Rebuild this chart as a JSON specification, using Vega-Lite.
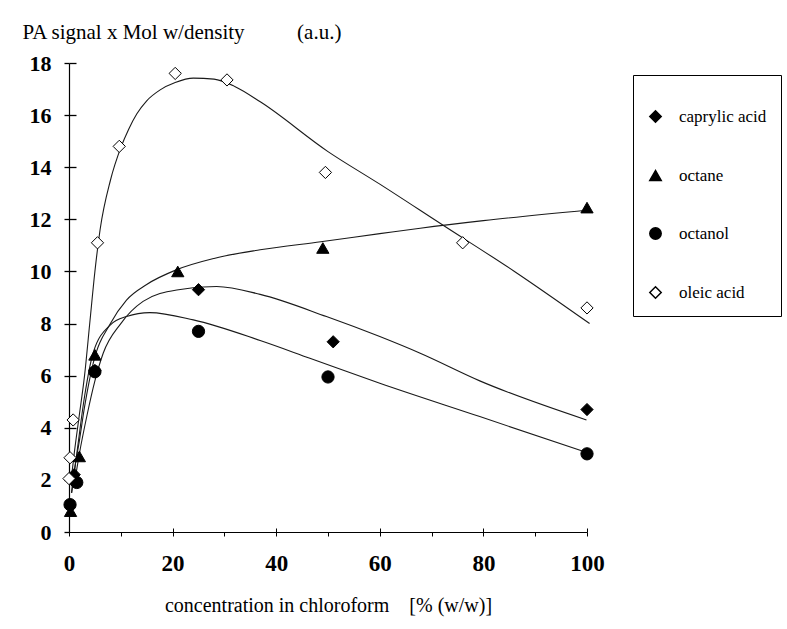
{
  "$schema": "https://vega.github.io/schema/vega-lite/v6.json",
  "width": 518,
  "height": 469,
  "autosize": {"type": "none"},
  "padding": {"left": 69, "top": 63, "right": 200, "bottom": 97},
  "background": "white",
  "config": {
    "font": "Liberation Serif, Times New Roman, serif",
    "view": {"stroke": null}
  },
  "datasets": {
    "points": [
      {"series": "caprylic acid", "conc": 1, "value": 2.2},
      {"series": "caprylic acid", "conc": 5, "value": 6.2},
      {"series": "caprylic acid", "conc": 25, "value": 9.3},
      {"series": "caprylic acid", "conc": 51, "value": 7.3},
      {"series": "caprylic acid", "conc": 100, "value": 4.7},
      {"series": "octane", "conc": 0.3, "value": 0.8},
      {"series": "octane", "conc": 2, "value": 2.9},
      {"series": "octane", "conc": 5, "value": 6.8},
      {"series": "octane", "conc": 21, "value": 10.0},
      {"series": "octane", "conc": 49, "value": 10.9},
      {"series": "octane", "conc": 100, "value": 12.45},
      {"series": "octanol", "conc": 0.2, "value": 1.05},
      {"series": "octanol", "conc": 1.5, "value": 1.9},
      {"series": "octanol", "conc": 5, "value": 6.15},
      {"series": "octanol", "conc": 25, "value": 7.7},
      {"series": "octanol", "conc": 50, "value": 5.95},
      {"series": "octanol", "conc": 100, "value": 3.0},
      {"series": "oleic acid", "conc": 0, "value": 2.05},
      {"series": "oleic acid", "conc": 0.2, "value": 2.85},
      {"series": "oleic acid", "conc": 0.8, "value": 4.3},
      {"series": "oleic acid", "conc": 5.5, "value": 11.1},
      {"series": "oleic acid", "conc": 9.7, "value": 14.8},
      {"series": "oleic acid", "conc": 20.5, "value": 17.6},
      {"series": "oleic acid", "conc": 30.5, "value": 17.35},
      {"series": "oleic acid", "conc": 49.5, "value": 13.8},
      {"series": "oleic acid", "conc": 76, "value": 11.1},
      {"series": "oleic acid", "conc": 100, "value": 8.6}
    ],
    "curves": [
      {"series": "caprylic acid", "conc": 1, "value": 1.8},
      {"series": "caprylic acid", "conc": 2, "value": 3.0},
      {"series": "caprylic acid", "conc": 3.5, "value": 4.5},
      {"series": "caprylic acid", "conc": 5, "value": 5.8},
      {"series": "caprylic acid", "conc": 6.6, "value": 6.86},
      {"series": "caprylic acid", "conc": 10, "value": 8.0},
      {"series": "caprylic acid", "conc": 14.3, "value": 8.85},
      {"series": "caprylic acid", "conc": 20.8, "value": 9.29},
      {"series": "caprylic acid", "conc": 28.5, "value": 9.42},
      {"series": "caprylic acid", "conc": 36.9, "value": 9.12},
      {"series": "caprylic acid", "conc": 49.7, "value": 8.27},
      {"series": "caprylic acid", "conc": 60, "value": 7.5},
      {"series": "caprylic acid", "conc": 67.8, "value": 6.86},
      {"series": "caprylic acid", "conc": 79.3, "value": 5.8},
      {"series": "caprylic acid", "conc": 99.9, "value": 4.3},
      {"series": "octane", "conc": 0.5, "value": 1.5},
      {"series": "octane", "conc": 1, "value": 2.3},
      {"series": "octane", "conc": 2, "value": 3.5},
      {"series": "octane", "conc": 3, "value": 4.8},
      {"series": "octane", "conc": 4.7, "value": 6.5},
      {"series": "octane", "conc": 8, "value": 8.0},
      {"series": "octane", "conc": 11.1, "value": 8.9},
      {"series": "octane", "conc": 15, "value": 9.5},
      {"series": "octane", "conc": 20.7, "value": 10.06},
      {"series": "octane", "conc": 28, "value": 10.5},
      {"series": "octane", "conc": 36.9, "value": 10.83},
      {"series": "octane", "conc": 48.6, "value": 11.14},
      {"series": "octane", "conc": 60, "value": 11.45},
      {"series": "octane", "conc": 67.8, "value": 11.66},
      {"series": "octane", "conc": 80, "value": 11.95},
      {"series": "octane", "conc": 100.4, "value": 12.36},
      {"series": "octanol", "conc": 0.5, "value": 1.5},
      {"series": "octanol", "conc": 1.5, "value": 3.0},
      {"series": "octanol", "conc": 3, "value": 5.2},
      {"series": "octanol", "conc": 4.7, "value": 6.9},
      {"series": "octanol", "conc": 8, "value": 7.95},
      {"series": "octanol", "conc": 11.1, "value": 8.27},
      {"series": "octanol", "conc": 15.6, "value": 8.42},
      {"series": "octanol", "conc": 24, "value": 8.14},
      {"series": "octanol", "conc": 36.9, "value": 7.35},
      {"series": "octanol", "conc": 46.5, "value": 6.67},
      {"series": "octanol", "conc": 60, "value": 5.71},
      {"series": "octanol", "conc": 79.3, "value": 4.43},
      {"series": "octanol", "conc": 100.4, "value": 3.02},
      {"series": "oleic acid", "conc": 0.3, "value": 1.8},
      {"series": "oleic acid", "conc": 1, "value": 3.0},
      {"series": "oleic acid", "conc": 2, "value": 4.5},
      {"series": "oleic acid", "conc": 3, "value": 6.0},
      {"series": "oleic acid", "conc": 4, "value": 8.0},
      {"series": "oleic acid", "conc": 5, "value": 10.0},
      {"series": "oleic acid", "conc": 6, "value": 11.6},
      {"series": "oleic acid", "conc": 8, "value": 13.5},
      {"series": "oleic acid", "conc": 10, "value": 14.75},
      {"series": "oleic acid", "conc": 11.5, "value": 15.45},
      {"series": "oleic acid", "conc": 13.1, "value": 16.05},
      {"series": "oleic acid", "conc": 15, "value": 16.55},
      {"series": "oleic acid", "conc": 17.6, "value": 16.97},
      {"series": "oleic acid", "conc": 20.5, "value": 17.25},
      {"series": "oleic acid", "conc": 24, "value": 17.42},
      {"series": "oleic acid", "conc": 28, "value": 17.38},
      {"series": "oleic acid", "conc": 32, "value": 17.1},
      {"series": "oleic acid", "conc": 37, "value": 16.5},
      {"series": "oleic acid", "conc": 50, "value": 14.6},
      {"series": "oleic acid", "conc": 60, "value": 13.35},
      {"series": "oleic acid", "conc": 72, "value": 11.8},
      {"series": "oleic acid", "conc": 86, "value": 10.0},
      {"series": "oleic acid", "conc": 100.5, "value": 8.0}
    ]
  },
  "resolve": {"axis": {"x": "independent", "y": "independent"}},
  "layer": [
    {
      "data": {"name": "curves"},
      "mark": {"type": "line", "interpolate": "monotone", "color": "#1a1a1a", "strokeWidth": 1.1},
      "encoding": {
        "x": {
          "field": "conc",
          "type": "quantitative",
          "scale": {"domain": [0, 100], "nice": false, "zero": false},
          "axis": {
            "orient": "bottom",
            "values": [0, 10, 20, 30, 40, 50, 60, 70, 80, 90, 100],
            "labelExpr": "datum.value % 20 === 0 ? datum.label : ''",
            "title": "concentration in chloroform\u00a0\u00a0\u00a0\u00a0[% (w/w)]",
            "titleFontSize": 20,
            "titleFontWeight": "normal",
            "titleColor": "black",
            "titlePadding": 20,
            "labelFontSize": 23,
            "labelFontWeight": "bold",
            "labelColor": "black",
            "labelPadding": 16,
            "labelFlush": false,
            "grid": false,
            "domainColor": "black",
            "domainWidth": 1.2,
            "tickColor": "black",
            "tickSize": 4,
            "tickWidth": 1
          }
        },
        "y": {
          "field": "value",
          "type": "quantitative",
          "scale": {"domain": [0, 18], "nice": false, "zero": true},
          "axis": {
            "orient": "left",
            "values": [0, 2, 4, 6, 8, 10, 12, 14, 16, 18],
            "title": "PA signal x Mol w/density\u00a0\u00a0\u00a0\u00a0\u00a0\u00a0\u00a0\u00a0\u00a0\u00a0(a.u.)",
            "titleAngle": 0,
            "titleAlign": "left",
            "titleBaseline": "alphabetic",
            "titleX": -47,
            "titleY": -25,
            "titleFontSize": 21,
            "titleFontWeight": "normal",
            "titleColor": "black",
            "labelFontSize": 22,
            "labelFontWeight": "bold",
            "labelColor": "black",
            "labelPadding": 13,
            "labelFlush": false,
            "grid": false,
            "domainColor": "black",
            "domainWidth": 1.2,
            "tickColor": "black",
            "tickSize": 5,
            "tickWidth": 1.3
          }
        },
        "detail": {"field": "series", "type": "nominal"}
      }
    },
    {
      "data": {"name": "points"},
      "mark": {"type": "point", "filled": true, "size": 150, "stroke": "black", "strokeWidth": 1, "opacity": 1},
      "encoding": {
        "x": {
          "field": "conc",
          "type": "quantitative",
          "scale": {"domain": [0, 100], "nice": false, "zero": false},
          "axis": {
            "orient": "bottom",
            "values": [0, 20, 40, 60, 80, 100],
            "labels": false,
            "domain": false,
            "grid": false,
            "title": null,
            "tickColor": "black",
            "tickSize": -4,
            "tickWidth": 1
          }
        },
        "y": {
          "field": "value",
          "type": "quantitative",
          "scale": {"domain": [0, 18], "nice": false, "zero": true},
          "axis": {
            "orient": "left",
            "values": [2, 4, 6, 8, 10, 12, 14, 16, 18],
            "labels": false,
            "domain": false,
            "grid": false,
            "title": null,
            "tickColor": "black",
            "tickSize": -7,
            "tickWidth": 1.3
          }
        },
        "shape": {
          "field": "series",
          "type": "nominal",
          "scale": {
            "domain": ["caprylic acid", "octane", "octanol", "oleic acid"],
            "range": ["diamond", "triangle-up", "circle", "diamond"]
          },
          "legend": {
            "orient": "none",
            "legendX": 564,
            "legendY": 12,
            "title": "\u00a0",
            "titleFontSize": 10,
            "titlePadding": 9,
            "padding": 14,
            "strokeColor": "black",
            "fillColor": "white",
            "labelFontSize": 17,
            "labelColor": "black",
            "labelOffset": 15,
            "labelLimit": 400,
            "labelExpr": "datum.label + '\u00a0\u00a0\u00a0\u00a0\u00a0\u00a0'",
            "rowPadding": 40,
            "symbolSize": 130,
            "symbolOpacity": 1,
            "encode": {
              "symbols": {"update": {"stroke": {"value": "black"}, "strokeWidth": {"value": 1}}}
            }
          }
        },
        "fill": {
          "field": "series",
          "type": "nominal",
          "scale": {
            "domain": ["caprylic acid", "octane", "octanol", "oleic acid"],
            "range": ["black", "black", "black", "white"]
          },
          "legend": {
            "orient": "none",
            "legendX": 564,
            "legendY": 12,
            "title": "\u00a0",
            "titleFontSize": 10,
            "titlePadding": 9,
            "padding": 14,
            "strokeColor": "black",
            "fillColor": "white",
            "labelFontSize": 17,
            "labelColor": "black",
            "labelOffset": 15,
            "labelLimit": 400,
            "labelExpr": "datum.label + '\u00a0\u00a0\u00a0\u00a0\u00a0\u00a0'",
            "rowPadding": 40,
            "symbolSize": 130,
            "symbolOpacity": 1,
            "encode": {
              "symbols": {"update": {"stroke": {"value": "black"}, "strokeWidth": {"value": 1}}}
            }
          }
        }
      }
    }
  ]
}
